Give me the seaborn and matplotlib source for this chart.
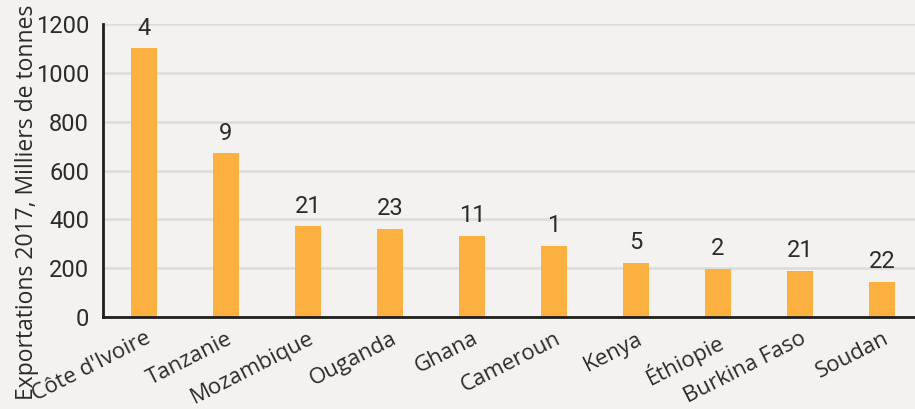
import matplotlib
matplotlib.use("Agg")
import matplotlib.pyplot as plt
import matplotlib.transforms as mtransforms
import seaborn as sns
import pandas as pd

# Cashew exports by country, 2017 (thousand tonnes) and world rank shown above each bar
countries = ["Côte d'Ivoire", "Tanzanie", "Mozambique", "Ouganda", "Ghana",
             "Cameroun", "Kenya", "Éthiopie", "Burkina Faso", "Soudan"]
exports = [1100, 670, 372, 362, 333, 292, 222, 198, 190, 145]
ranks = [4, 9, 21, 23, 11, 1, 5, 2, 21, 22]
yticks = [0, 200, 400, 600, 800, 1000, 1200]

BAR = "#FBB040"
BG = "#F3F2F0"
INK = "#2B2B2B"
NUM_FONT = ["Liberation Sans Narrow", "Roboto", "DejaVu Sans"]
LBL_FONT = ["Open Sans", "DejaVu Sans"]

sns.set_theme(style="whitegrid")
plt.rcParams["font.family"] = LBL_FONT

df = pd.DataFrame({"pays": countries, "export": exports})

fig = plt.figure(figsize=(9.15, 4.09), dpi=100, facecolor=BG)
ax = fig.add_axes([103 / 915, 92 / 409, 820 / 915, 293 / 409])
ax.set_facecolor(BG)

sns.barplot(data=df, x="pays", y="export", color=BAR, width=0.32,
            saturation=1, linewidth=0, ax=ax, zorder=3)

ax.set_ylim(0, 1200)
ax.set_xlim(-0.5, len(countries) - 0.5)
ax.set_yticks(yticks)
ax.set_yticklabels([str(v) for v in yticks], family=NUM_FONT, fontsize=17,
                   color=INK)
ax.yaxis.grid(True, color="#DCDCDC", linewidth=1.8, zorder=0)
ax.xaxis.grid(False)
ax.tick_params(axis="both", length=0)
ax.tick_params(axis="y", pad=10)

for side in ["top", "right"]:
    ax.spines[side].set_visible(False)
for side in ["left", "bottom"]:
    ax.spines[side].set_color("#1E1E1E")
    ax.spines[side].set_linewidth(2)
    ax.spines[side].set_zorder(4)

# Rotated country names, nudged to the right of their tick
ax.set_xticks(range(len(countries)))
ax.set_xticklabels(countries, rotation=27, ha="right", va="top",
                   fontsize=16, color=INK, family=LBL_FONT)
ax.tick_params(axis="x", pad=8)
shift = mtransforms.ScaledTranslation(10 / 100, 0, fig.dpi_scale_trans)
for lbl in ax.get_xticklabels():
    lbl.set_transform(lbl.get_transform() + shift)

# Rank above each bar
for i, (v, r) in enumerate(zip(exports, ranks)):
    ax.annotate(str(r), (i, v), xytext=(0, 6), textcoords="offset points",
                ha="center", va="bottom", fontsize=17, color=INK,
                family=NUM_FONT)

ax.set_xlabel("")
ax.set_ylabel("")
fig.text(27 / 915, 0.505, "Exportations 2017, Milliers de tonnes",
         rotation=90, ha="center", va="center", fontsize=16.5, color=INK,
         family=LBL_FONT)

fig.savefig("out.png", dpi=100, facecolor=BG)
